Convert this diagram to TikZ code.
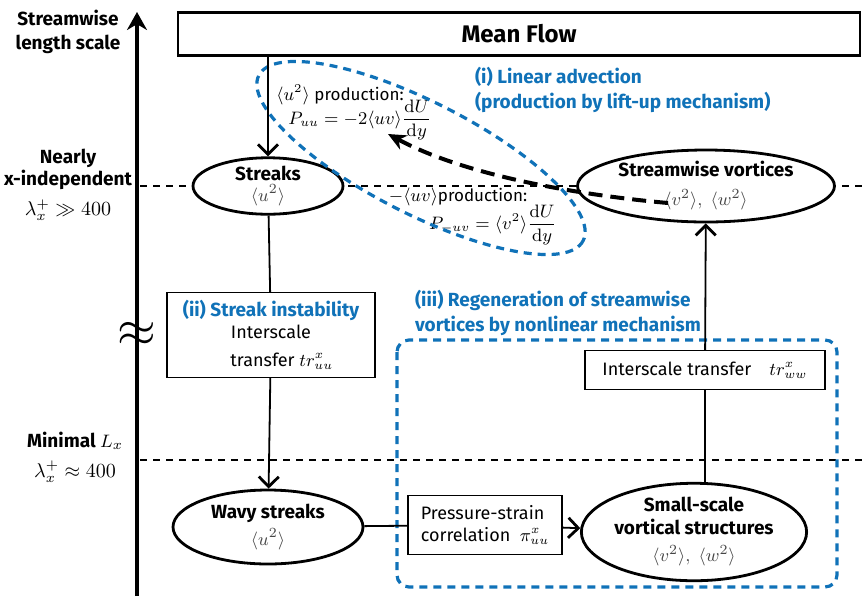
\documentclass[tikz,border=0pt]{standalone}
\usepackage[no-math]{fontspec}
\setmainfont{Fira Sans}
\usepackage{amsmath}
\usetikzlibrary{shapes.geometric,arrows.meta}
\definecolor{annblue}{RGB}{16,114,184}
\definecolor{quantgray}{RGB}{70,70,70}

\begin{document}
\begin{tikzpicture}[x=0.5pt,y=-0.5pt,
  font=\fontsize{9}{11}\selectfont,
  phase/.style={ellipse,draw,fill=white,line width=1.4pt,inner sep=0pt,align=center,font=\fontsize{9.5}{11.5}\selectfont},
  rate/.style={rectangle,draw,fill=white,line width=0.6pt,align=center},
  flow/.style={line width=0.9pt},
  flowto/.style={line width=0.9pt,-{Straight Barb[length=5pt,width=10pt,line width=1.4pt]}},
  scaleline/.style={line width=0.9pt,dash pattern=on 3.5pt off 3pt},
  regime/.style={draw=annblue,line width=1.6pt,dash pattern=on 4pt off 3pt},
  grouptitle/.style={text=annblue,font=\fontsize{9.5}{12.5}\selectfont\bfseries,align=left}]
\useasboundingbox (0,0) rectangle (868,596);

% length-scale levels
\draw[scaleline] (140,186) -- (868,186);
\draw[scaleline] (140,460) -- (868,460);

% axis
\draw[line width=2pt,-{Stealth[length=9pt,width=10pt]}] (137,596) -- (137,12);
\node[font=\fontsize{9.5}{12}\selectfont\bfseries,align=center] (axlab) at (68,32) {Streamwise\\length scale};
\node[font=\fontsize{9.5}{11}\selectfont\bfseries,align=center] (nearly) at (68,185) {Nearly\\x-independent\\[4pt]\fontsize{10}{12}\selectfont$\lambda_x^+\gg 400$};
\node[font=\fontsize{9.5}{11}\selectfont\bfseries,align=center] (minimal) at (75,457) {Minimal $L_x$\\[4pt]\fontsize{10}{12}\selectfont$\lambda_x^+\approx 400$};
\node (gap) at (137,334) {\fontsize{32}{32}\selectfont$\approx$};

% structures
\node[rate,line width=1.1pt,minimum width=341pt,minimum height=21.5pt,font=\fontsize{12}{14}\selectfont\bfseries] (mean) at (519,34) {Mean Flow};
\node[phase,minimum width=75pt,minimum height=26pt] (streaks) at (268,186) {\textbf{Streaks}\\[-1pt]\textcolor{quantgray}{$\langle u^2\rangle$}};
\node[phase,minimum width=128.5pt,minimum height=36pt] (vort) at (706,186) {\textbf{Streamwise vortices}\\[3pt]\textcolor{quantgray}{$\langle v^2\rangle,\ \langle w^2\rangle$}};
\node[phase,minimum width=95pt,minimum height=37pt] (wavy) at (268,527) {\textbf{Wavy streaks}\\[2pt]\textcolor{quantgray}{$\langle u^2\rangle$}};
\node[phase,minimum width=101.5pt,minimum height=47.5pt] (small) at (694,532) {\textbf{Small-scale}\\\textbf{vortical structures}\\[2pt]\textcolor{quantgray}{$\langle v^2\rangle,\ \langle w^2\rangle$}};

% transfer terms
\node[rate,minimum width=104pt,minimum height=42.5pt] (inst) at (271,335) {\textcolor{annblue}{\fontsize{9.5}{11}\selectfont\bfseries(ii) Streak instability}\\Interscale\\[3pt]\hspace{1.2em}transfer $tr^x_{uu}$};
\node[rate,minimum width=120pt,minimum height=19.5pt] (trww) at (705,370) {Interscale transfer\quad$tr^x_{ww}$};
\node[rate,minimum width=77pt,minimum height=29.5pt,align=left] (pstrain) at (485,525) {Pressure-strain\\correlation\ \ $\pi^x_{uu}$};

% production terms
\node (uulab) at (340,95) {$\langle u^2\rangle$ \fontsize{8.5}{10}\selectfont production:};
\node (uueq) at (360,120) {$P_{uu}=-2\langle uv\rangle\dfrac{\mathrm{d}U}{\mathrm{d}y}$};
\node (uvlab) at (458,197) {$-\langle uv\rangle$\fontsize{8.5}{10}\selectfont production:};
\node (uveq) at (493,225) {$P_{-uv}=\langle v^2\rangle\dfrac{\mathrm{d}U}{\mathrm{d}y}$};

% mechanisms
\draw[regime,rotate around={-27:(421,158)}] (421,158) ellipse [x radius=182,y radius=56];
\node[grouptitle,anchor=west] (advect) at (468,90) {(i) Linear advection\\(production by lift-up mechanism)};
\draw[regime,rounded corners=6pt] (397,340) rectangle (837,587);
\node[grouptitle,anchor=west] (regen) at (408,313) {(iii) Regeneration of streamwise\\vortices by nonlinear mechanism};

% connectors
\draw[flowto] (mean.south -| streaks) -- (streaks);
\draw[flow] (streaks) -- (inst);
\draw[flowto] (inst) -- (wavy);
\draw[flow] (wavy) -- (pstrain);
\draw[flowto] (pstrain) -- (small);
\draw[flow] (small.north -| trww) -- (trww);
\draw[flowto] (trww) -- (vort);
\coordinate (vw) at (668,203);
\coordinate (uutip) at (388,134);
\draw[line width=2pt,dash pattern=on 7pt off 4pt,-{Stealth[length=9pt,width=8pt]}] (vw) .. controls (590,196) and (470,178) .. (uutip);
\end{tikzpicture}
\end{document}
